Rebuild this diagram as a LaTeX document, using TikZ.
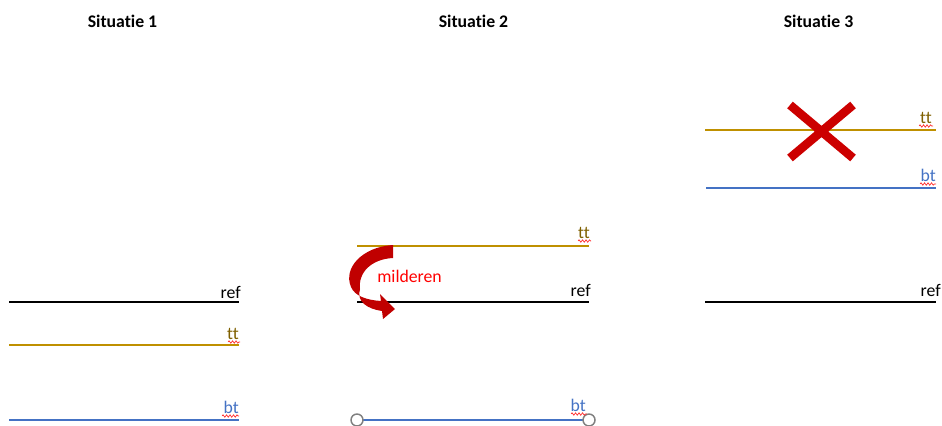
\documentclass[tikz,border=0pt]{standalone}
\usepackage{fontspec}
\setmainfont[Ligatures={NoCommon,NoContextual},RawFeature={-liga;-calt;-clig}]{Carlito}
\usetikzlibrary{decorations.pathmorphing}
\definecolor{goldline}{RGB}{191,144,0}
\definecolor{goldtext}{RGB}{127,96,0}
\definecolor{blueline}{RGB}{68,114,196}
\definecolor{darkred}{RGB}{192,0,0}
\definecolor{crossred}{RGB}{204,0,0}
\tikzset{
  title/.style={font=\fontsize{13.3}{16}\selectfont\bfseries, anchor=base},
  lbl/.style={font=\fontsize{13.3}{16}\selectfont, anchor=base east, inner sep=0pt},
  levelline/.style={line width=1.9pt},
  squiggle/.style={red!85!white, line width=0.5pt, decorate,
    decoration={snake, segment length=2.6, amplitude=0.9}},
  handle/.style={draw=gray, fill=white, line width=1.1pt, circle, minimum size=9, inner sep=0pt},
}
\begin{document}
\begin{tikzpicture}[x=0.75pt, y=-0.75pt]
\useasboundingbox (0,0) rectangle (942,425);

% titles
\node[title] (t1) at (122.5,27) {Situatie 1};
\node[title] (t2) at (473.5,27) {Situatie 2};
\node[title] (t3) at (818.5,27) {Situatie 3};

% ---- Situatie 1 ----
\draw[levelline, black] (9,302) -- (239,302);
\node[lbl] (ref1) at (241,298) {ref};
\draw[levelline, goldline] (9,345) -- (239,345);
\node[lbl, text=goldtext] (tt1) at (239,339) {tt};
\draw[squiggle] (228,342) -- (240,342);
\draw[levelline, blueline] (9,420) -- (239,420);
\node[lbl, text=blueline] (bt1) at (239,413) {bt};
\draw[squiggle] (222,416) -- (239,416);

% ---- Situatie 2 ----
\draw[levelline, goldline] (357,246) -- (589,246);
\node[lbl, text=goldtext] (tt2) at (590,238) {tt};
\draw[squiggle] (578,241) -- (591,241);
\draw[levelline, black] (357,302) -- (589,302);
\node[lbl] (ref2) at (591,296) {ref};
\draw[levelline, blueline] (357,420) -- (589,420);
\node[handle] (h1) at (357,420) {};
\node[handle] (h2) at (589,420) {};
\node[lbl, text=blueline] (bt2) at (586,411) {bt};
\draw[squiggle] (571,414) -- (587,414);
\node[lbl, anchor=base west, text=red] (mild) at (377,282) {milderen};

% curved arrow (mitigation)
\fill[darkred]
  (393,245) .. controls (362,247) and (343,268) .. (351,287)
  .. controls (355,296) and (366,300) .. (381,301)
  -- (380,294) -- (395,309) -- (383,319) -- (382,311)
  .. controls (368,309) and (356,302) .. (360,289)
  .. controls (358,272) and (372,259) .. (393,258)
  -- cycle;

% ---- Situatie 3 ----
\draw[levelline, goldline] (705,130) -- (936,130);
\node[lbl, text=goldtext] (tt3) at (932,123) {tt};
\draw[squiggle] (919,126) -- (933,126);
\draw[levelline, blueline] (706,188) -- (936,188);
\node[lbl, text=blueline] (bt3) at (936,181) {bt};
\draw[squiggle] (920,184) -- (936,184);
\draw[levelline, black] (705,302) -- (936,302);
\node[lbl] (ref3) at (941,296) {ref};
\coordinate (xa) at (790,105);
\coordinate (xb) at (853,158);
\coordinate (xc) at (853,105);
\coordinate (xd) at (790,158);
\draw[crossred, line width=6.5pt] (xa) -- (xb) (xc) -- (xd);
\end{tikzpicture}
\end{document}
